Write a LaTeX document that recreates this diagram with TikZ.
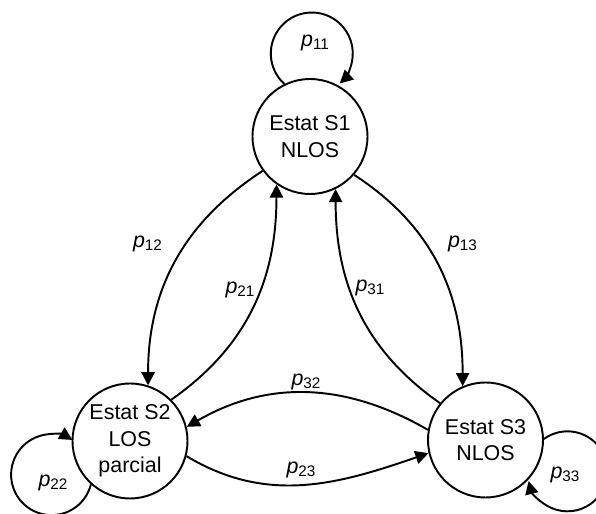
\documentclass[tikz,border=0pt]{standalone}
\usepackage{fontspec}
\setmainfont{Liberation Sans}
\usetikzlibrary{arrows.meta}
\newcommand{\prob}[1]{\textit{p}\raisebox{-1.9pt}{\fontsize{8.7}{8.7}\selectfont #1}}
\begin{document}
\begin{tikzpicture}[x=0.02cm,y=0.02cm,
  state/.style={circle,draw,line width=1.1pt,minimum size=2.3cm,inner sep=0pt,align=center,font=\fontsize{12.2}{15.2}\selectfont},
  arr/.style={line width=1.1pt,-{Triangle[length=7.5pt,width=7.5pt]}},
  lbl/.style={font=\fontsize{12.2}{14}\selectfont,inner sep=0pt}]
\useasboundingbox (0,0) rectangle (596,514);
\node[state] (s1) at (310,377.5) {Estat S1\\NLOS};
\node[state] (s2) at (130,73) {Estat S2\\LOS\\parcial};
\node[state] (s3) at (485.5,74) {Estat S3\\NLOS};
% between states
\draw[arr] (s1.216) to[out=213,in=90] (s2.72);
\draw[arr] (s2.45) to[out=35,in=270] (s1.235);
\draw[arr] (s1.319) to[out=-33,in=90] (s3.113);
\draw[arr] (s3.141) to[out=145,in=270] (s1.296);
\draw[arr] (s3.170) to[out=150,in=30] (s2.14);
\draw[arr] (s2.345) to[out=-31,in=199] (s3.193);
% self loops
\draw[arr] (s1.116) arc[start angle=228,end angle=-47,radius=0.82cm];
\draw[arr] (s2.228) arc[start angle=-14,end angle=-301,radius=0.81cm];
\draw[arr] (s3.1) arc[start angle=126,end angle=-166,radius=0.8cm];
% labels
\node[lbl] (l11) at (315,471) {\prob{11}};
\node[lbl] (l22) at (53,31) {\prob{22}};
\node[lbl] (l33) at (565,39) {\prob{33}};
\node[lbl] (l12) at (147.5,270) {\prob{12}};
\node[lbl] (l21) at (240,224) {\prob{21}};
\node[lbl] (l13) at (462.5,270) {\prob{13}};
\node[lbl] (l31) at (370,226) {\prob{31}};
\node[lbl] (l32) at (306,132) {\prob{32}};
\node[lbl] (l23) at (301,44) {\prob{23}};
\end{tikzpicture}
\end{document}
